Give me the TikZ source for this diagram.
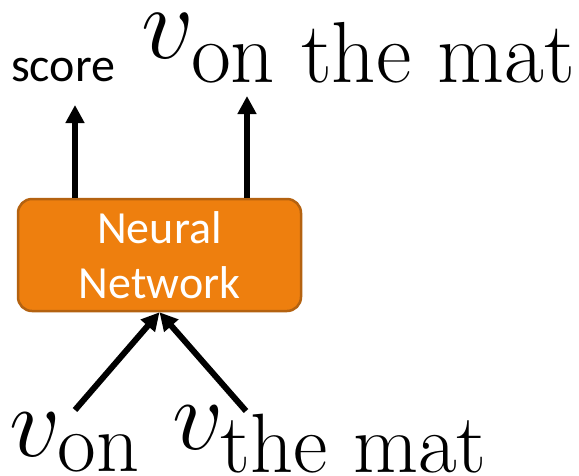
\documentclass[tikz,border=0pt]{standalone}
\usepackage{fontspec}
\usepackage{amsmath}
\newfontfamily\carlito{Carlito}
\usetikzlibrary{arrows.meta}
\definecolor{nnfill}{RGB}{238,127,14}
\definecolor{nnedge}{RGB}{180,98,16}
\begin{document}
\begin{tikzpicture}[x=1pt,y=-1pt,
  netbox/.style={draw=nnedge,line width=2.5pt,fill=nnfill,rounded corners=14pt,
    minimum width=283pt,minimum height=112pt,inner sep=0pt,
    text=white,align=center,font=\carlito\fontsize{46}{55}\selectfont},
  sans/.style={inner sep=0pt,anchor=base west,font=\carlito\fontsize{48}{57}\selectfont},
  vec/.style={inner sep=0pt,anchor=base west,font=\Huge},
  arr/.style={line width=6pt,-{Triangle[length=18pt,width=18pt]}}]
\useasboundingbox (0,0) rectangle (579,475);
% network block
\node[netbox] (nn) at (159.5,255) {Neural\\Network};
% outputs
\node[sans] (score) at (11,81) {score};
\node[vec,scale=4.18] (vout) at (141,58) {$v_{\text{on the mat}}$};
% inputs
\node[vec,scale=4.06] (von) at (9,456) {$v_{\text{on}}$};
\node[vec,scale=4.06] (vmat) at (172,449) {$v_{\text{the mat}}$};
% arrow ends
\coordinate (s1) at (75,105);
\coordinate (s2) at (247,96);
\coordinate (i1) at (75,410);
\coordinate (i2) at (246,411);
\draw[arr] (s1 |- nn.north) -- (s1);
\draw[arr] (s2 |- nn.north) -- (s2);
\draw[arr] (i1) -- (nn.south);
\draw[arr] (i2) -- (nn.south);
\end{tikzpicture}
\end{document}
